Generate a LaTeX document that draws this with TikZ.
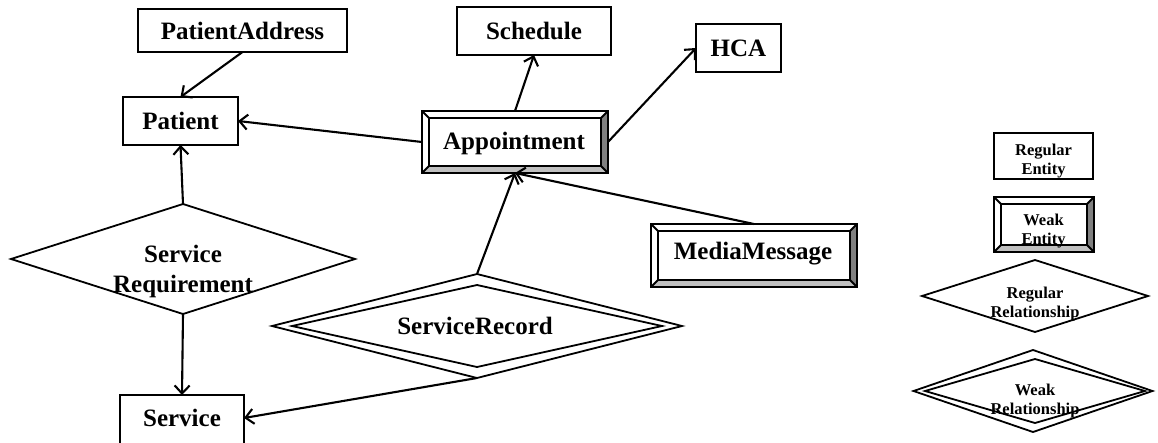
\documentclass[tikz,border=0pt]{standalone}
\usepackage{fontspec}
\setmainfont{Liberation Serif}
\usetikzlibrary{arrows.meta,shapes.geometric,calc}
\definecolor{bevdark}{HTML}{808080}
\definecolor{bevlight}{HTML}{C0C0C0}
\newcommand{\bevelbox}[2]{%
  \fill[bevlight] (#1.south west) -- (#1.south east) -- ++(-#2,-#2) -- ($(#1.south west)+(#2,-#2)$) -- cycle;
  \fill[bevdark] (#1.north east) -- (#1.south east) -- ++(-#2,-#2) -- ($(#1.north east)+(-#2,#2)$) -- cycle;
  \draw[boxline] ($(#1.south west)+(#2,-#2)$) rectangle ($(#1.north east)+(-#2,#2)$);
  \draw[boxline] (#1.north west) -- ++(#2,#2) (#1.south west) -- ++(#2,-#2)
     (#1.south east) -- ++(-#2,-#2) (#1.north east) -- ++(-#2,#2);
  \draw[boxline] (#1.south west) rectangle (#1.north east);
}
\tikzset{
  boxline/.style={line width=1.8pt, line join=miter},
  ent/.style={draw, boxline, rectangle, inner sep=0pt, outer sep=0pt, fill=white,
    font=\bfseries\fontsize{25}{29}\selectfont},
  rel/.style={draw, boxline, diamond, inner sep=0pt, outer sep=0pt},
  lab/.style={font=\bfseries\fontsize{25}{30}\selectfont, align=center, inner sep=0pt},
  leglab/.style={font=\bfseries\fontsize{16.5}{18.5}\selectfont, align=center, inner sep=0pt},
  conn/.style={line width=2.1pt, -{Straight Barb[length=8pt,width=15pt,line width=2.1pt]}}
}
\begin{document}
\begin{tikzpicture}[x=1pt,y=-1pt]
\clip (0,0) rectangle (1158,442);
\fill[white] (0,0) rectangle (1158,442);

% regular entities
\node[ent, minimum width=209, minimum height=43] (pa) at (242.5,30.5) {PatientAddress};
\node[ent, minimum width=115, minimum height=48] (pat) at (180.5,121) {Patient};
\node[ent, minimum width=154, minimum height=48] (sched) at (534,31) {Schedule};
\node[ent, minimum width=85, minimum height=48] (hca) at (738.5,48) {HCA};
\node[ent, minimum width=124, minimum height=70] (serv) at (182,430) {};
\node[lab] (servt) at (182,418) {Service};

% weak entities
\node[ent, minimum width=186, minimum height=62] (appt) at (515,142) {};
\bevelbox{appt}{7}
\node[lab] (apptt) at (514,143) {Appointment};
\node[ent, minimum width=206, minimum height=63] (mm) at (754,255.5) {};
\bevelbox{mm}{7}
\node[lab] (mmt) at (753,254) {MediaMessage};

% relationships
\node[rel, minimum width=344, minimum height=110] (sreq) at (183,259) {};
\node[lab] (sreqt) at (183,271) {Service\\Requirement};
\node[rel, minimum width=410, minimum height=104] (srec) at (477,326) {};
\node[rel, minimum width=370, minimum height=82] (srecin) at (477,326) {};
\node[lab] (srect) at (475,326) {ServiceRecord};

% connectors
\draw[conn] (pa.south) -- (pat.north);
\draw[conn] (appt.west) -- (pat.east);
\draw[conn] (appt.north) -- (sched.south);
\draw[conn] (appt.east) -- (hca.west);
\draw[conn] (sreq.north) -- (pat.south);
\draw[conn] (sreq.south) -- (serv.north);
\draw[conn] (srec.north) -- (appt.south);
\draw[conn] (mm.north) -- (appt.south);
\draw[conn] (srec.south) -- (serv.east |- servt.center);

% legend
\node[ent, minimum width=99, minimum height=46] (lre) at (1043.5,156) {};
\node[leglab] (lret) at (1043.5,161) {Regular\\Entity};
\node[ent, minimum width=100, minimum height=55] (lwe) at (1044,224.5) {};
\bevelbox{lwe}{7}
\node[leglab] (lwet) at (1043.5,231) {Weak\\Entity};
\node[rel, minimum width=226, minimum height=72] (lrr) at (1035,296) {};
\node[leglab] (lrrt) at (1035,304) {Regular\\Relationship};
\node[rel, minimum width=239, minimum height=82] (lwr) at (1033,391) {};
\node[rel, minimum width=220, minimum height=64] (lwrin) at (1035,391) {};
\node[leglab] (lwrt) at (1035,401) {Weak\\Relationship};
\end{tikzpicture}
\end{document}
